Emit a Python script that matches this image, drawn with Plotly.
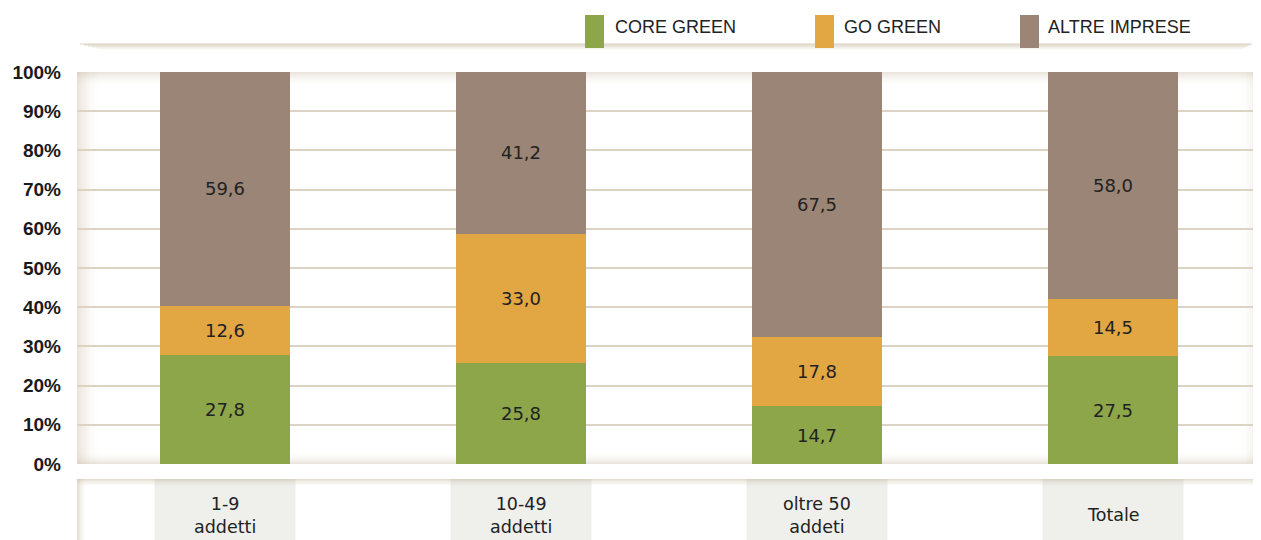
import plotly.graph_objects as go

categories = ["1-9<br>addetti", "10-49<br>addetti", "oltre 50<br>addeti", "Totale"]
series_names = ["CORE GREEN", "GO GREEN", "ALTRE IMPRESE"]
core_green = [27.8, 25.8, 14.7, 27.5]
go_green = [12.6, 33.0, 17.8, 14.5]
altre_imprese = [59.6, 41.2, 67.5, 58.0]
colors = ["#8DA64A", "#E2A642", "#9A8576"]
y_ticks = [0, 10, 20, 30, 40, 50, 60, 70, 80, 90, 100]

values = [core_green, go_green, altre_imprese]
xs = list(range(len(categories)))

# page body adds an 8px offset; work in window pixel coordinates
OFF = 8
W, H = 1261 - OFF, 540 - OFF
PL, PR, PT, PB = 77, 1261, 72, 464  # plot area in window pixels
ML, MR, MT, MB = PL - OFF, (W + OFF) - PR, PT - OFF, (H + OFF) - PB
PW, PH = PR - PL, PB - PT


def px_x(p):
    return (p - PL) / PW


def px_y(p):
    return (PB - p) / PH


fig = go.Figure()
for name, vals, col in zip(series_names, values, colors):
    fig.add_trace(go.Bar(
        x=xs, y=vals, name=name, marker=dict(color=col, line=dict(width=0)),
        width=0.44,
        text=[f"{v:.1f}".replace(".", ",") for v in vals],
        textposition="inside", insidetextanchor="middle",
        textfont=dict(family="DejaVu Sans", size=18, color="#222222"),
        hoverinfo="skip",
    ))

shapes = []


def beige(a):
    return f"rgba(196,180,152,{a:.3f})"


N = 10
for i in range(N):
    a = 0.34 * (1 - i / N) ** 2
    shapes.append(dict(type="rect", xref="paper", yref="paper",
                       x0=px_x(PL + i * 2.4), x1=px_x(PL + (i + 1) * 2.4), y0=0, y1=1,
                       fillcolor=beige(a), line=dict(width=0), layer="below"))
    shapes.append(dict(type="rect", xref="paper", yref="paper",
                       x0=px_x(PR - (i + 1) * 2.2), x1=px_x(PR - i * 2.2), y0=0, y1=1,
                       fillcolor=beige(a), line=dict(width=0), layer="below"))
    shapes.append(dict(type="rect", xref="paper", yref="paper", x0=0, x1=1,
                       y0=px_y(PT + (i + 1) * 1.4), y1=px_y(PT + i * 1.4),
                       fillcolor=beige(a), line=dict(width=0), layer="below"))
    shapes.append(dict(type="rect", xref="paper", yref="paper", x0=0, x1=1,
                       y0=px_y(PB - i * 1.2), y1=px_y(PB - (i + 1) * 1.2),
                       fillcolor=beige(a), line=dict(width=0), layer="below"))

# shadow line under legend
for i in range(6):
    a = 0.6 * (1 - i / 6)
    shapes.append(dict(type="line", xref="paper", yref="paper",
                       x0=px_x(80 + i * 4), x1=px_x(1252 - i * 2),
                       y0=px_y(44 + i), y1=px_y(44 + i),
                       line=dict(color=beige(a), width=1.2)))

# bottom category panel
panel_top = 479
panel_bot = 545
shapes.append(dict(type="rect", xref="paper", yref="paper", x0=0, x1=1.0,
                   y0=px_y(panel_bot), y1=px_y(panel_top),
                   fillcolor="white", line=dict(width=0), layer="below"))
for x in xs:
    shapes.append(dict(type="rect", xref="x", yref="paper", x0=x - 0.238, x1=x + 0.238,
                       y0=px_y(panel_bot), y1=px_y(panel_top),
                       fillcolor="#efefeb", line=dict(width=0), layer="below"))
for i in range(6):
    a = 0.45 * (1 - i / 6) ** 2
    shapes.append(dict(type="rect", xref="paper", yref="paper", x0=0, x1=1,
                       y0=px_y(panel_top + (i + 1) * 1.3), y1=px_y(panel_top + i * 1.3),
                       fillcolor=beige(a), line=dict(width=0), layer="below"))
    shapes.append(dict(type="rect", xref="paper", yref="paper",
                       x0=px_x(PL + i * 1.5), x1=px_x(PL + (i + 1) * 1.5),
                       y0=px_y(panel_bot), y1=px_y(panel_top),
                       fillcolor=beige(a), line=dict(width=0), layer="below"))
    shapes.append(dict(type="rect", xref="paper", yref="paper",
                       x0=px_x(PR - (i + 1) * 1.5), x1=px_x(PR - i * 1.5),
                       y0=px_y(panel_bot), y1=px_y(panel_top),
                       fillcolor=beige(a), line=dict(width=0), layer="below"))

annotations = []
for x, lab in zip(xs, categories):
    annotations.append(dict(x=x, y=px_y(515), xref="x", yref="paper", text=lab, showarrow=False,
                            font=dict(family="DejaVu Sans", size=17.5, color="#222222"), yanchor="middle"))

# legend
leg_sq = [585, 815, 1020]
leg_tx = [615, 844, 1048]
for sx, tx, name, col in zip(leg_sq, leg_tx, series_names, colors):
    shapes.append(dict(type="rect", xref="paper", yref="paper", x0=px_x(sx), x1=px_x(sx + 19),
                       y0=px_y(48), y1=px_y(15), fillcolor=col, line=dict(width=0)))
    annotations.append(dict(x=px_x(tx), y=px_y(27), xref="paper", yref="paper", text=name, showarrow=False,
                            xanchor="left", yanchor="middle", xshift=-2,
                            font=dict(family="Liberation Sans Narrow, Liberation Sans", size=18, color="#222222")))

fig.update_layout(
    barmode="stack",
    width=W, height=H,
    margin=dict(l=ML, r=MR, t=MT, b=MB, autoexpand=False),
    paper_bgcolor="white", plot_bgcolor="white",
    showlegend=False,
    shapes=shapes, annotations=annotations,
    xaxis=dict(range=[-0.5, 3.5], showticklabels=False, showgrid=False, zeroline=False,
               fixedrange=True, automargin=False),
    yaxis=dict(range=[0, 100], tickvals=y_ticks, ticktext=[f"{t}%" for t in y_ticks],
               showgrid=True, gridcolor="#ddd3c2", gridwidth=2, zeroline=False, automargin=False,
               tickfont=dict(family="Liberation Sans", size=19, color="#1a1a1a", weight="bold"),
               ticklabelstandoff=15),
)

fig.write_html("out.html")
